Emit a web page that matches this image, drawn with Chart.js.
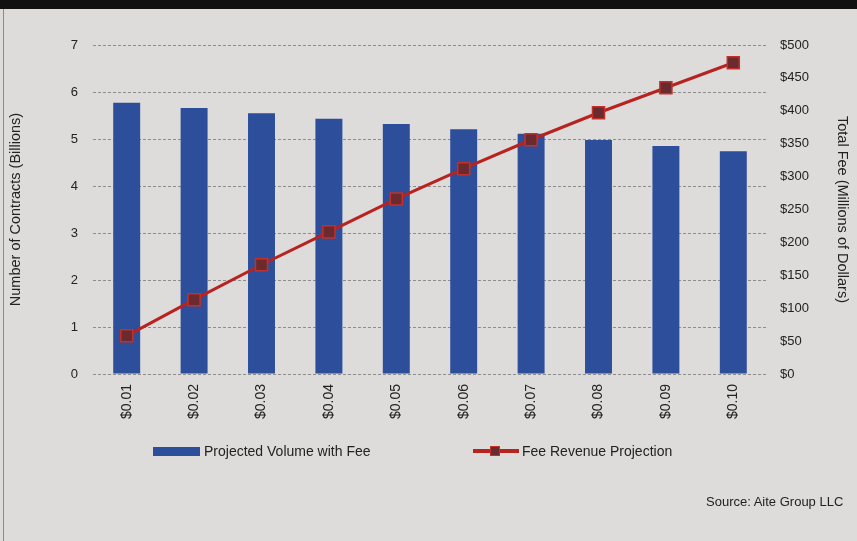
<!DOCTYPE html>
<html>
<head>
<meta charset="utf-8">
<script src="https://cdn.jsdelivr.net/npm/chart.js@4.4.0/dist/chart.umd.min.js"></script>
<style>
  html, body { margin: 0; padding: 0; }
  body { width: 857px; height: 541px; overflow: hidden; background: #dddcda; position: relative; font-family: 'Liberation Sans', Arial, sans-serif; }
  #topband { position: absolute; left: 0; top: 0; width: 857px; height: 9px; background: #111; }
  #leftedge { position: absolute; left: 3px; top: 9px; width: 1px; height: 532px; background: #8a8a8a; }
  #wrap { position: absolute; left: 0; top: 0; width: 857px; height: 541px; }
  .leg { position: absolute; font-size: 14px; color: #222; }
  #source { position: absolute; left: 706px; top: 494px; font-size: 13px; color: #222; }
</style>
</head>
<body>
<div id="topband"></div>
<div id="leftedge"></div>
<div id="wrap"><canvas id="chart" width="857" height="541"></canvas></div>

<div style="position:absolute;left:153px;top:447px;width:47px;height:9px;background:#2c4e9b;"></div>
<div class="leg" style="left:204px;top:443px;">Projected Volume with Fee</div>
<div style="position:absolute;left:473px;top:449px;width:46px;height:4px;background:#b8221f;"></div>
<div style="position:absolute;left:490px;top:446px;width:8px;height:8px;background:#6b2b2e;border:1px solid #c3302a;"></div>
<div class="leg" style="left:522px;top:443px;">Fee Revenue Projection</div>
<div id="source">Source: Aite Group LLC</div>

<script>
const feeLabels = ['$0.01', '$0.02', '$0.03', '$0.04', '$0.05', '$0.06', '$0.07', '$0.08', '$0.09', '$0.10'];
const volumeBillions = [5.77, 5.66, 5.55, 5.43, 5.32, 5.21, 5.11, 4.98, 4.85, 4.74];
const revenueMillions = [58, 113, 166, 216, 266, 312, 356, 397, 435, 473];

const baseFont = "'Liberation Sans', Arial, sans-serif";

new Chart(document.getElementById('chart').getContext('2d'), {
    data: {
        labels: feeLabels,
        datasets: [
            {
                type: 'line',
                label: 'Fee Revenue Projection',
                data: revenueMillions,
                yAxisID: 'y1',
                borderColor: '#b8221f',
                borderWidth: 3,
                pointStyle: 'rect',
                pointRadius: 8.5,
                pointBackgroundColor: '#6b2b2e',
                pointBorderColor: '#c3302a',
                pointBorderWidth: 1.5,
                tension: 0,
                order: 1
            },
            {
                type: 'bar',
                label: 'Projected Volume with Fee',
                data: volumeBillions,
                yAxisID: 'y',
                backgroundColor: '#2c4e9b',
                barPercentage: 0.4,
                categoryPercentage: 1.0,
                order: 2
            }
        ]
    },
    options: {
        responsive: false,
        animation: false,
        layout: { padding: { top: 45, left: 7, right: 6, bottom: 0 } },
        plugins: {
            legend: { display: false },
            tooltip: { enabled: false }
        },
        scales: {
            x: {
                offset: true,
                grid: { display: false, drawTicks: false },
                border: { display: false },
                ticks: {
                    color: '#222',
                    font: { family: baseFont, size: 14 },
                    minRotation: 90,
                    maxRotation: 90,
                    padding: 10
                },
                afterFit: function(scale) { scale.height = 167; }
            },
            y: {
                position: 'left',
                min: 0,
                max: 7,
                grid: { color: '#8d8d8d', drawTicks: false },
                border: { display: false, dash: [3, 2] },
                ticks: {
                    stepSize: 1,
                    color: '#222',
                    padding: 15,
                    font: { family: baseFont, size: 13 }
                },
                title: {
                    display: true,
                    text: 'Number of Contracts (Billions)',
                    color: '#222',
                    font: { family: baseFont, size: 14.5 },
                    padding: 0
                },
                afterFit: function(scale) { scale.width = 86; }
            },
            y1: {
                position: 'right',
                min: 0,
                max: 500,
                grid: { display: false, drawTicks: false },
                border: { display: false },
                ticks: {
                    stepSize: 50,
                    color: '#222',
                    padding: 13,
                    font: { family: baseFont, size: 13 },
                    callback: function(v) { return '$' + v; }
                },
                title: {
                    display: true,
                    text: 'Total Fee (Millions of Dollars)',
                    color: '#222',
                    font: { family: baseFont, size: 14.5 },
                    padding: 0
                },
                afterFit: function(scale) { scale.width = 84; }
            }
        }
    }
});
</script>
</body>
</html>
